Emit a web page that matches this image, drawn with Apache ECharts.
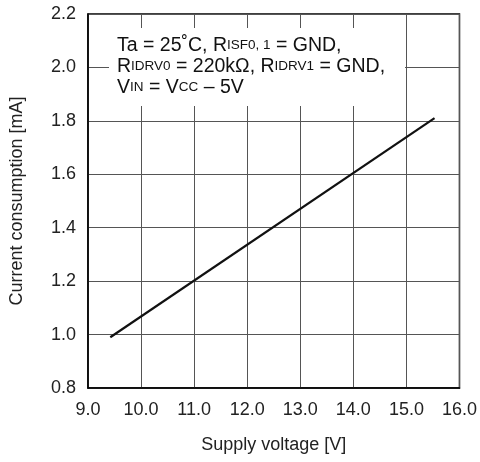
<!DOCTYPE html>
<html>
<head>
<meta charset="utf-8">
<script src="https://cdn.jsdelivr.net/npm/echarts@6/dist/echarts.min.js"></script>
<style>
  html, body { margin: 0; padding: 0; background: #fff; }
  #chart { width: 480px; height: 462px; }
</style>
</head>
<body>
<div id="chart"></div>
<script>
// 供电电压 vs 消耗电流
const voltage = [9.42, 15.53];
const current = [0.99, 1.81];
const xTicks = [9, 16, 1];
const yTicks = [0.8, 2.2, 0.2];

const chart = echarts.init(document.getElementById('chart'));
const font = 'Liberation Sans, Arial, sans-serif';
chart.setOption({
  animation: false,
  grid: { left: 87, top: 14, right: 17, bottom: 74, show: true, borderColor: '#000', borderWidth: 1.5 },
  xAxis: {
    type: 'value', min: xTicks[0], max: xTicks[1], interval: xTicks[2],
    name: 'Supply voltage [V]', nameLocation: 'middle', nameGap: 48,
    nameTextStyle: { color: '#222', fontSize: 18, fontFamily: font },
    axisLine: { lineStyle: { color: '#000', width: 1.5 } },
    axisTick: { show: false },
    axisLabel: { color: '#222', fontSize: 18, fontFamily: font, margin: 13, formatter: v => v.toFixed(1) },
    splitLine: { lineStyle: { color: '#555', width: 1 } }
  },
  yAxis: {
    type: 'value', min: yTicks[0], max: yTicks[1], interval: yTicks[2],
    name: 'Current consumption [mA]', nameLocation: 'middle', nameGap: 62,
    nameTextStyle: { color: '#222', fontSize: 18, fontFamily: font },
    axisLine: { lineStyle: { color: '#000', width: 1.5 } },
    axisTick: { show: false },
    axisLabel: { color: '#222', fontSize: 18, fontFamily: font, margin: 12, formatter: v => v.toFixed(1) },
    splitLine: { lineStyle: { color: '#555', width: 1 } }
  },
  series: [{
    type: 'line',
    data: voltage.map((v, i) => [v, current[i]]),
    symbol: 'none',
    lineStyle: { color: '#111', width: 2.2 },
    z: 3
  }],
  graphic: [
    { type: 'rect', left: 109, top: 28, shape: { width: 296, height: 78 }, style: { fill: '#fff' }, z: 10 },
    {
      type: 'text', left: 117, top: 35, z: 11,
      style: {
        text: 'Ta = 25˚C, R{s|ISF0, 1} = GND,\nR{s|IDRV0} = 220kΩ, R{s|IDRV1} = GND,\nV{s|IN} = V{s|CC} – 5V',
        font: '19.5px ' + font, fill: '#111', lineHeight: 21,
        rich: { s: { fontSize: 13.5, fontFamily: font, fill: '#111', lineHeight: 21 } }
      }
    }
  ]
});
</script>
</body>
</html>
